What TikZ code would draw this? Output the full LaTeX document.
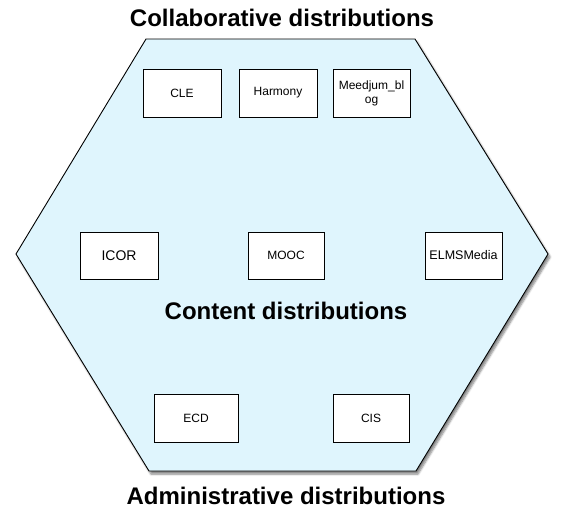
\documentclass[tikz,border=0pt]{standalone}
\usepackage{fontspec}
\setmainfont{Liberation Sans}
\usepackage{tikz}
\usetikzlibrary{shadows.blur}
\definecolor{C0}{HTML}{DFF5FD}

\begin{document}
\begin{tikzpicture}[x=1pt,y=-1pt,
  distbox/.style={draw=black, line width=0.9pt, fill=white, inner sep=0pt,
    align=center, minimum height=48pt, font=\fontsize{12}{14}\selectfont},
  heading/.style={font=\bfseries\fontsize{24}{28}\selectfont}]
\useasboundingbox (0,0) rectangle (564,520);
% hexagon
\draw[fill=C0, line width=0.9pt,
  blur shadow={shadow xshift=2pt, shadow yshift=-3pt, shadow blur steps=6, shadow opacity=50}]
  (146,39) -- (415,39) -- (548,254) -- (416,471) -- (149,471) -- (16,254) -- cycle;
% headings
\node[heading] (collab) at (282,18) {Collaborative distributions};
\node[heading] (content) at (286,311) {Content distributions};
\node[heading] (admin) at (286,496) {Administrative distributions};
% top row
\node[distbox, minimum width=78pt] (cle) at (182,93) {CLE};
\node[distbox, minimum width=78pt] (harmony) at (278,93) {Harmony};
\node[distbox, minimum width=77pt] (meedjum) at (371.5,93) {Meedjum\_bl\\og};
% middle row
\node[distbox, minimum width=78pt, minimum height=47pt, font=\fontsize{14}{16}\selectfont] (icor) at (119,255.5) {ICOR};
\node[distbox, minimum width=76pt, minimum height=47pt] (mooc) at (286,255.5) {MOOC};
\node[distbox, minimum width=77pt, minimum height=47pt, font=\fontsize{12.5}{15}\selectfont] (elms) at (463.5,255.5) {ELMSMedia};
% bottom row
\node[distbox, minimum width=84pt] (ecd) at (196,418) {ECD};
\node[distbox, minimum width=76pt] (cis) at (371,418) {CIS};
\end{tikzpicture}
\end{document}
